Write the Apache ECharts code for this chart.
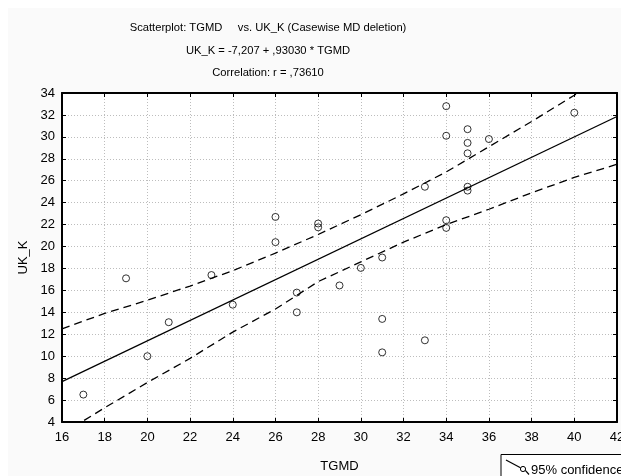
<!DOCTYPE html>
<html>
<head>
<meta charset="utf-8">
<script src="https://cdn.jsdelivr.net/npm/echarts@6/dist/echarts.min.js"></script>
<style>
  html, body { margin: 0; padding: 0; background: #fff; }
  #chart { width: 621px; height: 476px; }
</style>
</head>
<body>
<div id="chart"></div>
<script>
// Scatterplot TGMD vs UK_K with fitted line and 95% confidence band

const tgmd = [17, 19, 20, 21, 23, 24, 26, 26, 27, 27, 28, 28, 29, 30, 31,
              31, 31, 33, 33, 34, 34, 34, 34, 35, 35, 35, 35, 35, 36, 40];
const ukK  = [6.5, 17.1, 10.0, 13.1, 17.4, 14.7, 22.7, 20.4, 15.8, 14.0, 22.1, 21.75, 16.45, 18.05, 19.0,
              13.4, 10.35, 25.45, 11.45, 32.8, 30.1, 22.4, 21.7, 30.7, 29.45, 28.5, 25.45, 25.1, 29.8, 32.2];

const fitX = [16, 42];
const fitY = [7.68, 31.86];

// confidence band, read at each x tick
const bandX = [16, 18, 20, 22, 24, 26, 28, 30, 32, 34, 36, 38, 40, 42];
const upperY = [12.5, 13.9, 15.1, 16.4, 17.8, 19.4, 21.1, 22.9, 24.8, 26.8, 29.1, 31.4, 33.8, 36.4];
const lowerY = [2.9, 5.3, 7.6, 9.8, 12.2, 14.3, 16.8, 18.6, 20.4, 22.0, 23.4, 24.9, 26.3, 27.5];

const titleLines = [
  'Scatterplot: TGMD     vs. UK_K (Casewise MD deletion)',
  'UK_K = -7,207 + ,93030 * TGMD',
  'Correlation: r = ,73610'
];

const FONT = 'Liberation Sans, Arial, sans-serif';

const zip = (xs, ys) => xs.map((x, i) => [x, ys[i]]);

const chart = echarts.init(document.getElementById('chart'));

const baseX = {
  type: 'value', min: 16, max: 42, interval: 2,
  axisLine: { show: true, lineStyle: { color: '#000', width: 2 } },
  axisTick: { show: true, inside: true, length: 4, lineStyle: { color: '#000', width: 1 } },
  splitLine: { show: false }
};
const baseY = {
  type: 'value', min: 4, max: 34, interval: 2,
  axisLine: { show: true, lineStyle: { color: '#000', width: 2 } },
  axisTick: { show: true, inside: true, length: 4, lineStyle: { color: '#000', width: 1 } },
  splitLine: { show: false }
};

chart.setOption({
  animation: false,
  backgroundColor: '#fff',
  graphic: [
    { type: 'rect', z: -10, shape: { x: 8, y: 8, width: 613, height: 468 }, style: { fill: '#fafafa' } },
    ...titleLines.map((t, i) => ({
      type: 'text', x: 268, y: 28 + i * 22.5,
      style: { text: t, font: '11.2px ' + FONT, fill: '#000', textAlign: 'center', textVerticalAlign: 'middle' }
    })),
    // legend box (cut off by the page edge)
    { type: 'rect', shape: { x: 501, y: 454.5, width: 130, height: 40 },
      style: { fill: '#fff', stroke: '#000', lineWidth: 1 } },
    { type: 'line', shape: { x1: 506, y1: 460, x2: 520.5, y2: 467.8 }, style: { stroke: '#000', lineWidth: 1.2 } },
    { type: 'circle', shape: { cx: 523, cy: 469, r: 2.6 }, style: { fill: '#fff', stroke: '#000', lineWidth: 1 } },
    { type: 'line', shape: { x1: 525.3, y1: 470.3, x2: 529, y2: 474.5 }, style: { stroke: '#000', lineWidth: 1.2 } },
    { type: 'text', x: 531, y: 470,
      style: { text: '95% confidence', font: '13px ' + FONT, fill: '#000', textVerticalAlign: 'middle' } }
  ],
  grid: {
    left: 62, right: 4, top: 93, bottom: 54,
    containLabel: false, outerBoundsMode: 'none',
    show: true, backgroundColor: '#fff', borderWidth: 0
  },
  xAxis: [
    {
      ...baseX, position: 'bottom',
      name: 'TGMD', nameLocation: 'middle', nameGap: 38,
      nameTextStyle: { color: '#000', fontSize: 13, fontFamily: FONT },
      axisLabel: { color: '#000', fontSize: 13, fontFamily: FONT, margin: 9 },
      splitLine: { show: true, lineStyle: { color: '#bdbdbd', type: [1, 2], width: 1 } }
    },
    { ...baseX, position: 'top', axisLabel: { show: false } }
  ],
  yAxis: [
    {
      ...baseY, position: 'left',
      name: 'UK_K', nameLocation: 'middle', nameGap: 32,
      nameTextStyle: { color: '#000', fontSize: 13, fontFamily: FONT },
      axisLabel: { color: '#000', fontSize: 13, fontFamily: FONT, margin: 7 },
      splitLine: { show: true, lineStyle: { color: '#bdbdbd', type: [1, 2], width: 1 } }
    },
    { ...baseY, position: 'right', axisLabel: { show: false } }
  ],
  series: [
    {
      type: 'line', data: zip(fitX, fitY), symbol: 'none', clip: true,
      lineStyle: { color: '#000', width: 1.3 }, z: 3
    },
    {
      name: '95% confidence', type: 'line', data: zip(bandX, upperY), symbol: 'none', clip: true,
      lineStyle: { color: '#000', width: 1.3, type: [8, 5] }, z: 3
    },
    {
      name: '95% confidence', type: 'line', data: zip(bandX, lowerY), symbol: 'none', clip: true,
      lineStyle: { color: '#000', width: 1.3, type: [8, 5] }, z: 3
    },
    {
      type: 'scatter', data: zip(tgmd, ukK), symbol: 'circle', symbolSize: 7,
      itemStyle: { color: 'rgba(255,255,255,0)', borderColor: '#000', borderWidth: 1 }, z: 4
    }
  ]
});
</script>
</body>
</html>
